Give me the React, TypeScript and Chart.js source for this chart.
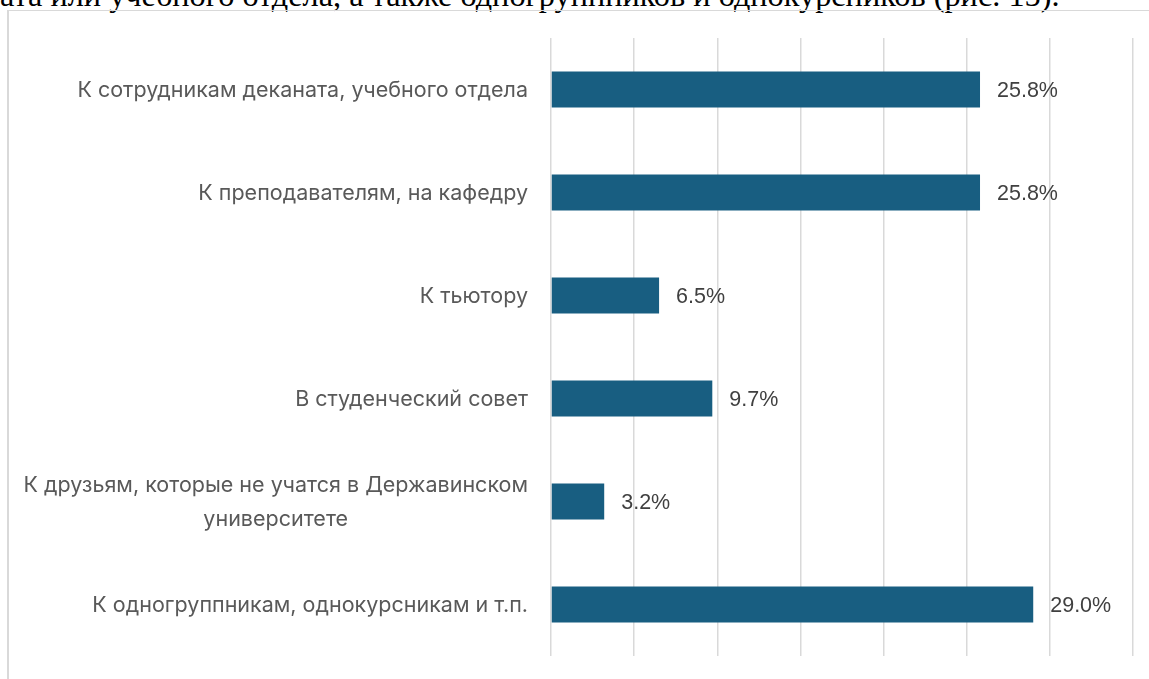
import React, { useEffect, useRef } from "react";
import { Chart, registerables } from "chart.js";

Chart.register(...registerables);

const categories: string[][] = [
  ["К сотрудникам деканата, учебного отдела"],
  ["К преподавателям, на кафедру"],
  ["К тьютору"],
  ["В студенческий совет"],
  ["К друзьям, которые не учатся в Державинском", "университете"],
  ["К одногруппникам, однокурсникам и т.п."],
];
const values: number[] = [25.8, 25.8, 6.5, 9.7, 3.2, 29.0];
const valueLabels: string[] = ["25.8%", "25.8%", "6.5%", "9.7%", "3.2%", "29.0%"];
const axisMin = 0;
const axisMax = 35;
const axisStep = 5;
const topText = "ата или учебного отдела, а также одногруппников и однокурсников (рис. 15).";

const CAT_FONT = "21.5px Inter, 'Noto Sans', sans-serif";
const VAL_FONT = "21.5px 'Liberation Sans', Arial, sans-serif";

const labelPlugin = {
  id: "customLabels",
  afterDraw(chart: any) {
    const ctx = chart.ctx;
    const y = chart.scales.y;
    const meta = chart.getDatasetMeta(0);
    ctx.save();
    ctx.font = CAT_FONT;
    ctx.fillStyle = "#595959";
    ctx.textAlign = "center";
    ctx.textBaseline = "middle";
    const rightEdge = chart.chartArea.left - 23;
    const lineH = 34;
    categories.forEach((lines, i) => {
      const cy = y.getPixelForValue(i);
      const maxW = Math.max(...lines.map((l) => ctx.measureText(l).width));
      const cx = rightEdge - maxW / 2;
      const startY = cy - ((lines.length - 1) * lineH) / 2 + 1.5;
      lines.forEach((l, j) => ctx.fillText(l, cx, startY + j * lineH));
    });
    ctx.font = VAL_FONT;
    ctx.fillStyle = "#404040";
    ctx.textAlign = "left";
    meta.data.forEach((bar: any, i: number) => {
      ctx.fillText(valueLabels[i], bar.x + 17, bar.y + 1.5);
    });
    ctx.restore();
  },
};

export default function App() {
  const ref = useRef<HTMLCanvasElement>(null);
  useEffect(() => {
    if (!ref.current) return;
    const chart = new Chart(ref.current, {
      type: "bar",
      data: {
        labels: categories.map((c) => c.join(" ")),
        datasets: [
          {
            data: values,
            backgroundColor: "#185E81",
            borderWidth: 0,
            barPercentage: 0.35,
            categoryPercentage: 1,
          },
        ],
      },
      options: {
        indexAxis: "y",
        responsive: false,
        animation: false,
        devicePixelRatio: 1,
        layout: { padding: { top: 38, bottom: 23, right: 16, left: 0 } },
        plugins: { legend: { display: false }, tooltip: { enabled: false } },
        scales: {
          x: {
            min: axisMin,
            max: axisMax,
            ticks: { stepSize: axisStep, display: false },
            grid: { color: "#d9d9d9", lineWidth: 1.5, drawTicks: false },
            border: { display: false },
          },
          y: {
            ticks: { display: false },
            grid: { display: false },
            border: { display: false },
            afterFit(scale: any) {
              scale.width = 551;
            },
          },
        },
      },
      plugins: [labelPlugin],
    });
    return () => chart.destroy();
  }, []);

  return (
    <div style={{ position: "fixed", left: 0, top: 0, width: 1149, height: 679, background: "#fff", overflow: "hidden" }}>
      <div
        style={{
          position: "absolute",
          left: 0,
          top: -21,
          whiteSpace: "nowrap",
          fontFamily: "'Liberation Serif', 'Times New Roman', serif",
          fontSize: 32.3,
          lineHeight: "32px",
          color: "#000",
        }}
      >
        {topText}
      </div>
      <div
        style={{
          position: "absolute",
          left: 7,
          top: 10,
          width: 1149,
          height: 679,
          borderLeft: "2px solid #d9d9d9",
          borderTop: "1.5px solid #d9d9d9",
          boxSizing: "border-box",
        }}
      />
      <canvas
        ref={ref}
        width={1149}
        height={679}
        style={{ position: "absolute", left: 0, top: 0, width: 1149, height: 679 }}
      />
    </div>
  );
}
